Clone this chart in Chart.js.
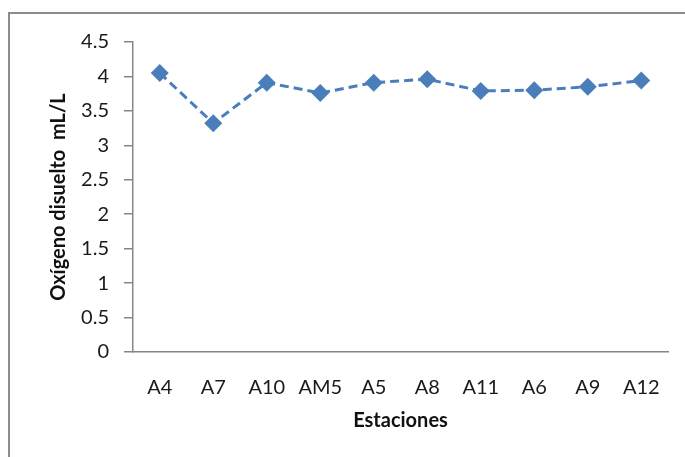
<!DOCTYPE html>
<html>
<head>
<meta charset="utf-8">
<script src="https://cdn.jsdelivr.net/npm/chart.js@4.4.0/dist/chart.umd.min.js"></script>
<style>
  html, body { margin: 0; padding: 0; background: #fff; }
  #box { width: 685px; height: 457px; }
</style>
</head>
<body>
<div id="box"><canvas id="chart1"></canvas></div>
<script>
// estaciones y oxígeno disuelto (mL/L)
const estaciones = ['A4', 'A7', 'A10', 'AM5', 'A5', 'A8', 'A11', 'A6', 'A9', 'A12'];
const oxigeno = [4.05, 3.32, 3.91, 3.76, 3.91, 3.96, 3.79, 3.80, 3.85, 3.94];

const azul = '#4a7ebb';
const gris = '#868686';

// marco gris del gráfico (arriba e izquierda)
const marco = {
  id: 'marco',
  afterDraw(chart) {
    const ctx = chart.ctx;
    ctx.save();
    ctx.strokeStyle = '#8c8c8c';
    ctx.lineWidth = 2;
    ctx.beginPath();
    ctx.moveTo(9, 457);
    ctx.lineTo(9, 13);
    ctx.lineTo(685, 13);
    ctx.stroke();
    ctx.restore();
  },
};

var ctx = document.getElementById('chart1').getContext('2d');
new Chart(ctx, {
  type: 'line',
  data: {
    labels: estaciones,
    datasets: [{
      label: 'Oxígeno disuelto',
      data: oxigeno,
      borderColor: azul,
      backgroundColor: azul,
      borderWidth: 3,
      borderDash: [9, 5],
      pointStyle: 'rectRot',
      pointRadius: 9,
      pointBorderWidth: 0,
      fill: false,
      tension: 0,
    }],
  },
  options: {
    responsive: true,
    maintainAspectRatio: false,
    animation: false,
    layout: { padding: { top: 42, right: 17, bottom: 0, left: 0 } },
    plugins: {
      legend: { display: false },
      tooltip: { enabled: false },
    },
    scales: {
      x: {
        offset: true,
        grid: { display: false },
        border: { display: true, color: gris, width: 1.5 },
        ticks: {
          color: '#1a1a1a',
          padding: 16,
          maxRotation: 0,
          font: { family: 'Lato', size: 20 },
        },
        title: {
          display: true,
          text: 'Estaciones',
          color: '#111',
          padding: { top: 0, bottom: 24 },
          font: { family: 'Lato', size: 20, weight: 'bold' },
        },
        afterFit(scale) { scale.height = 105; },
      },
      y: {
        min: 0,
        max: 4.5,
        ticks: {
          stepSize: 0.5,
          color: '#1a1a1a',
          padding: 15,
          font: { family: 'Lato', size: 20 },
          callback: (v) => String(v),
        },
        grid: {
          drawOnChartArea: false,
          drawTicks: true,
          tickLength: 9,
          color: gris,
          lineWidth: 1.5,
        },
        border: { display: true, color: gris, width: 1.5 },
        title: {
          display: true,
          text: 'Oxígeno disuelto  mL/L',
          color: '#111',
          padding: { top: 47, bottom: 0 },
          font: { family: 'Lato', size: 20, weight: 'bold' },
        },
        afterFit(scale) { scale.width = 133; },
      },
    },
  },
  plugins: [marco],
});
</script>
</body>
</html>
